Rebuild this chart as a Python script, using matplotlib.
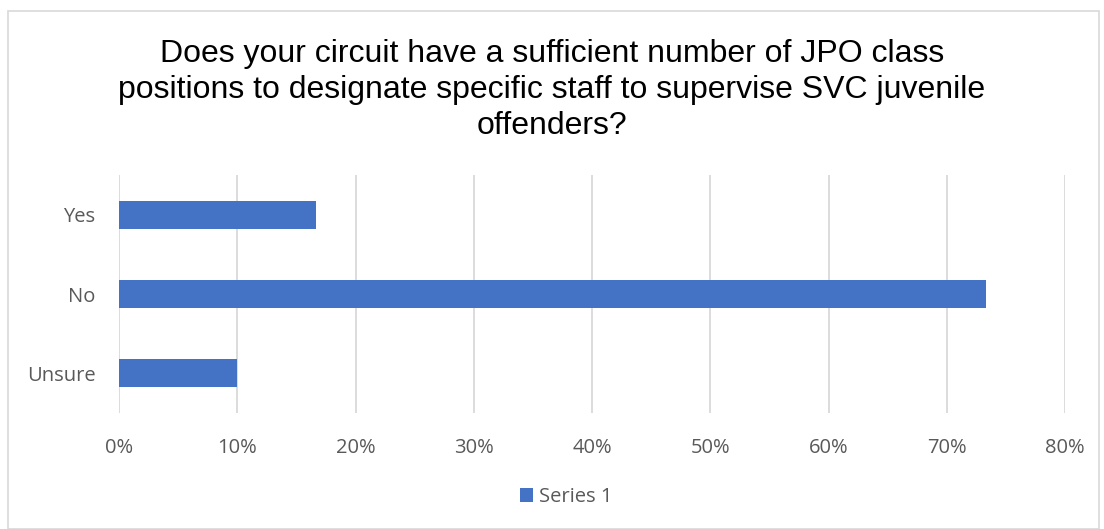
import matplotlib
matplotlib.use("Agg")
import matplotlib.pyplot as plt
from matplotlib.patches import Rectangle
from matplotlib.ticker import FuncFormatter

categories = ["Yes", "No", "Unsure"]
values = [16.67, 73.33, 10.0]
series_name = "Series 1"
xticks = [0, 10, 20, 30, 40, 50, 60, 70, 80]
title = ("Does your circuit have a sufficient number of JPO class\n"
         "positions to designate specific staff to supervise SVC juvenile\n"
         "offenders?")

W, H = 1104, 529
fig = plt.figure(figsize=(W / 100, H / 100), dpi=100)
ax = fig.add_axes([119 / W, 1 - 413 / H, (1065 - 119) / W, (413 - 175) / H])

bar_color = "#4472C4"
ypos = list(range(len(categories)))
ax.barh(ypos, values, height=0.35, color=bar_color, label=series_name, zorder=3)
ax.set_ylim(len(categories) - 0.5, -0.5)
ax.set_xlim(0, 80)
ax.set_xticks(xticks)
ax.xaxis.set_major_formatter(FuncFormatter(lambda v, p: f"{v:.0f}%"))
ax.set_yticks(ypos)
ax.set_yticklabels(categories)
ax.grid(axis="x", color="#D9D9D9", linewidth=1.3, zorder=0)
ax.grid(axis="y", visible=False)
for s in ax.spines.values():
    s.set_visible(False)
ax.tick_params(length=0, labelsize=14.5, colors="#595959")
ax.tick_params(axis="x", pad=18)
ax.tick_params(axis="y", pad=17)
for lbl in ax.get_xticklabels() + ax.get_yticklabels():
    lbl.set_fontfamily("Open Sans")

fig.text(552 / W, 1 - 90 / H, title, ha="center", va="center",
         fontsize=23, family="Liberation Sans", color="#000000", linespacing=1.27)

leg = fig.legend(loc="center", bbox_to_anchor=(566 / W, 1 - 497 / H), frameon=False,
                 prop={"family": "Open Sans", "size": 14.5}, handlelength=0.65,
                 handleheight=0.65, handletextpad=0.3)
for t in leg.get_texts():
    t.set_color("#595959")

fig.patches.append(Rectangle((8 / W, 0.5 / H), (1099 - 8) / W, (518 - 0.5) / H,
                             transform=fig.transFigure, fill=False,
                             edgecolor="#D9D9D9", linewidth=1.2))

fig.savefig("out.png", dpi=100)
